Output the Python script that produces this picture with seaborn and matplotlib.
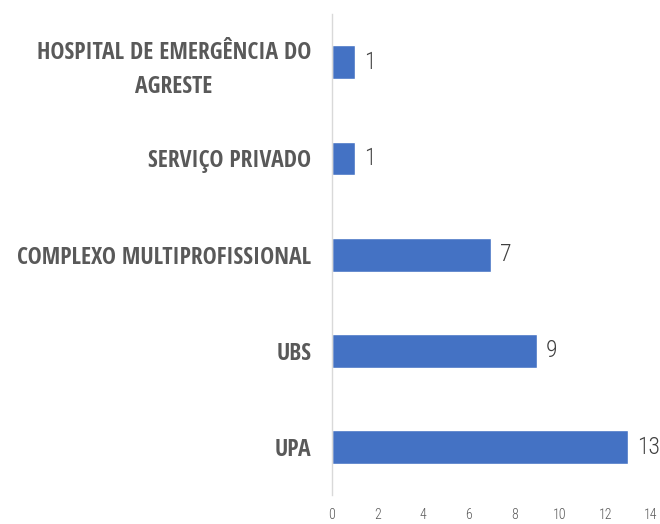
import pandas as pd
import matplotlib.pyplot as plt
import seaborn as sns

categorias = ['HOSPITAL DE EMERGÊNCIA DO\nAGRESTE', 'SERVIÇO PRIVADO',
              'COMPLEXO MULTIPROFISSIONAL', 'UBS', 'UPA']
valores = [1, 1, 7, 9, 13]
ticks_x = [0, 2, 4, 6, 8, 10, 12, 14]

df = pd.DataFrame({'local': categorias, 'total': valores})

sns.set_style('white')
plt.rcParams['font.family'] = ['Open Sans Condensed', 'DejaVu Sans']
fonte_fina = ['Roboto Condensed', 'DejaVu Sans']

fig = plt.figure(figsize=(6.6, 5.24), dpi=100)
ax = fig.add_axes([0.503, 0.055, 0.483, 0.918])
sns.barplot(data=df, x='total', y='local', color='#4472C4', saturation=1,
            width=0.35, orient='h', ax=ax)

ax.set_xlim(0, 14)
ax.set_xticks(ticks_x)
ax.set_ylim(4.5, -0.5)
ax.set_xlabel('')
ax.set_ylabel('')
for s in ['top', 'right', 'bottom']:
    ax.spines[s].set_visible(False)
ax.spines['left'].set_color('#D9D9D9')
ax.spines['left'].set_linewidth(1)
ax.tick_params(axis='x', length=0, pad=9, labelcolor='#595959')
ax.tick_params(axis='y', length=0, pad=15, labelcolor='#595959')
for lab in ax.get_xticklabels():
    lab.set_family(fonte_fina)
    lab.set_fontweight('light')
    lab.set_fontsize(10)
for lab in ax.get_yticklabels():
    lab.set_fontsize(17)
    lab.set_fontweight('bold')
    lab.set_multialignment('center')
    lab.set_linespacing(1.55)

for i, v in enumerate(valores):
    ax.text(v + 0.4, i, str(v), va='center', ha='left', fontsize=17,
            color='#404040', family=fonte_fina, fontweight='light')

fig.savefig('out.png', dpi=100)
